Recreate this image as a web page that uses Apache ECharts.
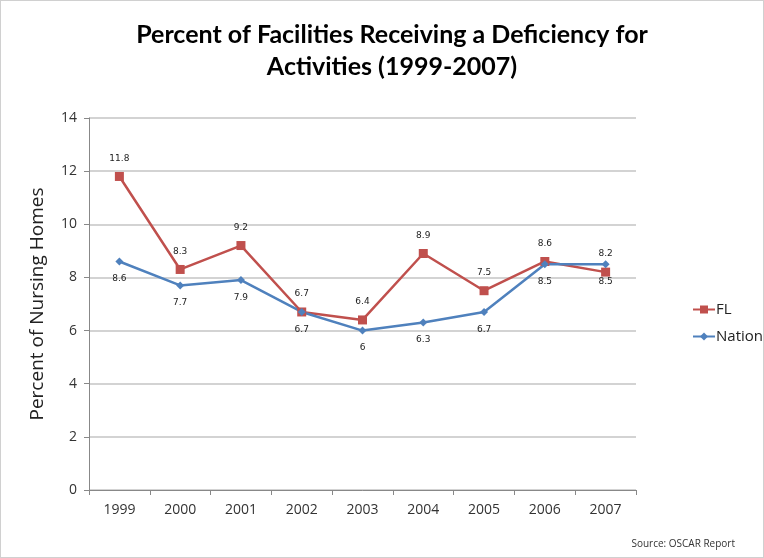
<!DOCTYPE html>
<html><head><meta charset="utf-8">
<script src="https://cdn.jsdelivr.net/npm/echarts@6/dist/echarts.min.js"></script>
<style>html,body{margin:0;padding:0;background:#fff}#c{width:764px;height:558px;box-sizing:border-box;border:1px solid #d0d0d0}</style>
</head><body><div id="c"></div>
<script>
const years = ['1999','2000','2001','2002','2003','2004','2005','2006','2007'];
const flValues = [11.8, 8.3, 9.2, 6.7, 6.4, 8.9, 7.5, 8.6, 8.2];
const nationValues = [8.6, 7.7, 7.9, 6.7, 6, 6.3, 6.7, 8.5, 8.5];
const titleText = 'Percent of Facilities Receiving a Deficiency for\nActivities (1999-2007)';
const yAxisName = 'Percent of Nursing Homes';
const sourceText = 'Source: OSCAR Report';

const chart = echarts.init(document.getElementById('c'));
chart.setOption({
  animation: false,
  title: {text: titleText, left: 386, top: 13, textAlign: 'center',
    textStyle: {fontFamily: 'Lato', fontWeight: 'bold', fontSize: 25, lineHeight: 32, color: '#000'}},
  graphic: [{type: 'text', right: 28, bottom: 8,
    style: {text: sourceText, font: '10px "Open Sans"', fill: '#333'}}],
  legend: {orient: 'vertical', left: 686, top: 296, itemGap: 12, itemWidth: 22, itemHeight: 10,
    textStyle: {fontFamily: 'Open Sans', fontSize: 15, color: '#222', padding: [0, 0, 0, -4]},
    data: ['FL', 'Nation']},
  grid: {left: 88, right: 127, top: 117, bottom: 67},
  xAxis: {type: 'category', data: years, boundaryGap: true,
    axisLine: {lineStyle: {color: '#888'}},
    axisTick: {show: true, alignWithLabel: false, length: 5, lineStyle: {color: '#888'}},
    axisLabel: {fontFamily: 'Open Sans', fontSize: 14, color: '#333', margin: 13}},
  yAxis: {type: 'value', min: 0, max: 14, interval: 2,
    name: yAxisName, nameLocation: 'middle', nameGap: 42,
    nameTextStyle: {fontFamily: 'Open Sans', fontSize: 19, color: '#222'},
    axisLine: {show: true, lineStyle: {color: '#888'}},
    axisTick: {show: true, length: 5, lineStyle: {color: '#888'}},
    axisLabel: {fontFamily: 'Open Sans', fontSize: 14, color: '#333', margin: 12},
    splitLine: {lineStyle: {color: '#c4c4c4', width: 1.5}}},
  series: [
    {name: 'FL', type: 'line', data: flValues, symbol: 'rect', symbolSize: 9,
      itemStyle: {color: '#C0504D'}, lineStyle: {color: '#C0504D', width: 2.5},
      label: {show: true, position: 'top', distance: 9, fontFamily: 'DejaVu Sans', fontSize: 9, color: '#222'}},
    {name: 'Nation', type: 'line', data: nationValues, symbol: 'diamond', symbolSize: 8,
      itemStyle: {color: '#4F81BD'}, lineStyle: {color: '#4F81BD', width: 2.5},
      label: {show: true, position: 'bottom', distance: 9, fontFamily: 'DejaVu Sans', fontSize: 9, color: '#222'}}
  ]
});
</script></body></html>
